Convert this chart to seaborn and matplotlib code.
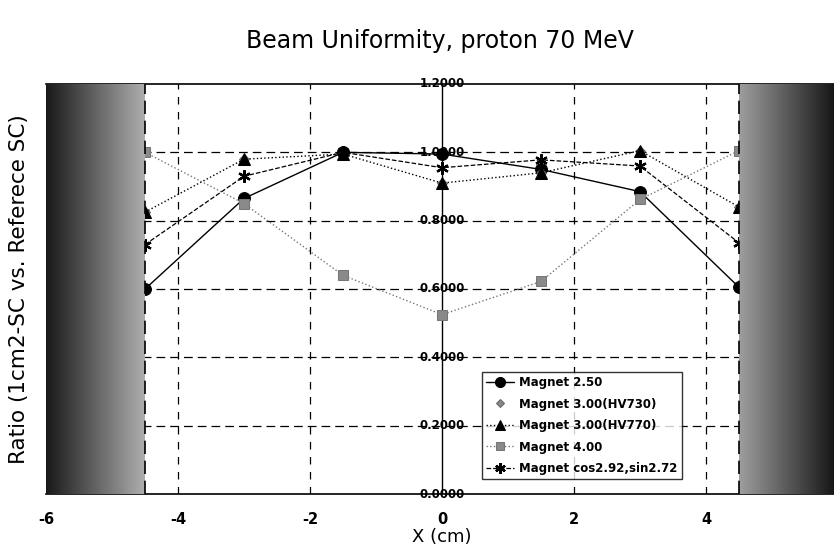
import numpy as np
import pandas as pd
import matplotlib
matplotlib.use("Agg")
import matplotlib.pyplot as plt
import seaborn as sns

# ---- data ----
x_cm = [-4.5, -3.0, -1.5, 0.0, 1.5, 3.0, 4.5]
magnet_250 = [0.60, 0.865, 1.00, 0.995, 0.95, 0.885, 0.605]
magnet_300_hv730 = [0.825, 0.98, 0.995, 0.91, 0.94, 1.005, 0.84]
magnet_300_hv770 = [0.825, 0.98, 0.995, 0.91, 0.94, 1.005, 0.84]
magnet_400 = [1.00, 0.85, 0.64, 0.525, 0.622, 0.862, 1.005]
magnet_cos = [0.73, 0.93, 1.00, 0.955, 0.978, 0.96, 0.735]
series_labels = ["Magnet 2.50", "Magnet 3.00(HV730)", "Magnet 3.00(HV770)",
                 "Magnet 4.00", "Magnet cos2.92,sin2.72"]
x_ticks = [-6, -4, -2, 0, 2, 4, 6]
y_ticks = [0.0, 0.2, 0.4, 0.6, 0.8, 1.0, 1.2]
y_tick_labels = ["0.0000", "0.2000", "0.4000", "0.6000", "0.8000", "1.0000", "1.2000"]
title = "Beam Uniformity, proton 70 MeV"
x_label = "X (cm)"
y_label = "Ratio (1cm2-SC vs. Referece SC)"

series_values = [magnet_250, magnet_300_hv730, magnet_300_hv770, magnet_400, magnet_cos]
frames = []
for lab, vals in zip(series_labels, series_values):
    frames.append(pd.DataFrame({"x": x_cm, "ratio": vals, "series": lab}))
df = pd.concat(frames, ignore_index=True)

sns.set_theme(style="white")
plt.rcParams["font.family"] = ["DejaVu Sans"]
plt.rcParams["text.color"] = "black"
plt.rcParams["axes.labelcolor"] = "black"
plt.rcParams["xtick.color"] = "black"
plt.rcParams["ytick.color"] = "black"

fig = plt.figure(figsize=(8.34, 5.49), dpi=100)
ax = fig.add_axes([46 / 834, 55 / 549, 792 / 834, 410 / 549])
ax.set_xlim(-6, 6)
ax.set_ylim(0, 1.2)

styles = {
    "Magnet 2.50": dict(marker="o", color="black", linestyle="-", markersize=8.5,
                        markeredgecolor="black", markerfacecolor="black", linewidth=1.0),
    "Magnet 3.00(HV730)": dict(marker="D", color="#888888", linestyle="none", markersize=5,
                               markeredgecolor="#666666", markerfacecolor="#888888"),
    "Magnet 3.00(HV770)": dict(marker="^", color="black", linestyle=":", markersize=8.5,
                               markeredgecolor="black", markerfacecolor="black", linewidth=1.0),
    "Magnet 4.00": dict(marker="s", color="#777777", linestyle=":", markersize=7,
                        markeredgecolor="#777777", markerfacecolor="#8a8a8a", linewidth=1.0),
    "Magnet cos2.92,sin2.72": dict(marker=(6, 2, 0), color="black", linestyle="--", markersize=9,
                                   markeredgecolor="black", markerfacecolor="black",
                                   markeredgewidth=1.6, linewidth=0.9, dashes=(6, 2, 1, 2)),
}

# grid lines
for xv in [-4, -2, 2, 4]:
    ax.axvline(xv, color="black", linestyle=(0, (6, 6)), linewidth=0.9, zorder=1)
for yv in [0.2, 0.4, 0.6, 0.8, 1.0]:
    ax.axhline(yv, color="black", linestyle=(0, (7, 4)), linewidth=0.9, zorder=1)
ax.axvline(0, color="black", linewidth=1.0, zorder=1)

for lab in series_labels:
    sub = df[df["series"] == lab]
    kw = dict(styles[lab])
    sns.lineplot(data=sub, x="x", y="ratio", ax=ax, label=lab, sort=False,
                 estimator=None, zorder=2, **kw)

# gradient bands
grad = np.linspace(0, 1, 256).reshape(1, -1)
ax.imshow(0.10 + 0.58 * grad, extent=(-6, -4.5, 0.0, 1.2), cmap="gray", vmin=0, vmax=1,
          aspect="auto", zorder=3, interpolation="bilinear")
ax.imshow(0.62 - 0.55 * grad, extent=(4.5, 6, 0.0, 1.2), cmap="gray", vmin=0, vmax=1,
          aspect="auto", zorder=3, interpolation="bilinear")
for xv in [-4.5, 4.5]:
    ax.axvline(xv, color="black", linestyle=(0, (8, 4)), linewidth=1.2, zorder=4)
ax.set_xlim(-6, 6)
ax.set_ylim(0, 1.2)

# y tick labels drawn on the x=0 axis
for v, t in zip(y_ticks, y_tick_labels):
    ax.text(0, v, t, ha="center", va="center", fontsize=8.5, fontweight="bold",
            color="black", zorder=5)

ax.set_xticks(x_ticks)
ax.set_xticklabels([str(t) for t in x_ticks], fontweight="bold", fontsize=10.5)
ax.set_yticks([])
ax.tick_params(axis="x", length=0, pad=13)
for s in ["left", "right"]:
    ax.spines[s].set_visible(False)
for s in ["top", "bottom"]:
    ax.spines[s].set_color("black")
    ax.spines[s].set_linewidth(1.2)

ax.set_xlabel(x_label, fontsize=13, labelpad=1)
ax.set_ylabel(y_label, fontsize=15.5)
ax.yaxis.set_label_coords(-0.022, 0.5)
fig.text(0.528, 0.925, title, ha="center", va="center", fontsize=17)

leg = ax.legend(loc="upper left", bbox_to_anchor=(0.5505, 0.2976), borderaxespad=0,
                frameon=True, prop={"size": 8.5, "weight": "bold"}, handlelength=2.4,
                labelspacing=0.72, borderpad=0.35, handletextpad=0.4, fancybox=False,
                markerscale=0.85)
leg.get_frame().set_edgecolor("black")
leg.get_frame().set_linewidth(1.0)
leg.set_zorder(6)

fig.savefig("out.png", dpi=100)
